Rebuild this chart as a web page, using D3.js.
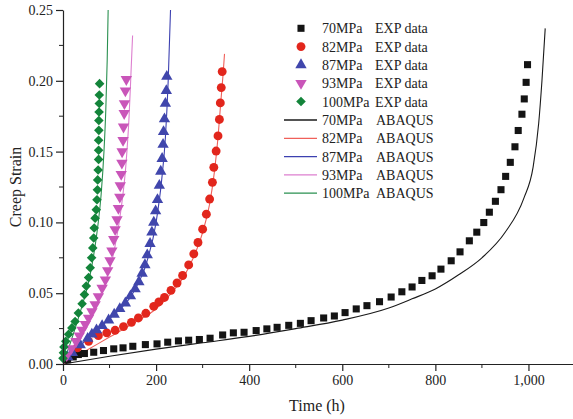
<!DOCTYPE html>
<html>
<head>
<meta charset="utf-8">
<script src="https://cdn.jsdelivr.net/npm/d3@7"></script>
<style>
body { margin: 0; background: #fff; }
text { font-family: 'Liberation Serif', 'Times New Roman', serif; fill: #222; }
</style>
</head>
<body>
<script>
// experimental points [time h, strain]
const exp70 = [[10,0.003],[22,0.005],[33,0.0067],[46,0.0074],[66,0.0083],[87,0.0095],[109,0.0107],[129,0.0114],[150,0.0125],[177,0.0137],[202,0.0142],[225,0.0154],[248,0.0163],[270,0.0168],[293,0.0173],[316,0.0182],[343,0.0205],[366,0.022],[389,0.0224],[415,0.0236],[438,0.0248],[460,0.0259],[485,0.0273],[510,0.0287],[533,0.0306],[560,0.0325],[583,0.0339],[606,0.0363],[630,0.0389],[653,0.0412],[680,0.044],[705,0.0473],[728,0.051],[750,0.0544],[771,0.059],[793,0.0623],[812,0.067],[834,0.0729],[853,0.0792],[873,0.087],[889,0.0931],[904,0.0999],[916,0.1072],[929,0.1149],[941,0.1231],[951,0.1325],[961,0.1424],[971,0.1534],[978,0.1649],[986,0.1764],[991,0.1872],[995,0.1989],[998,0.2114]]
const exp82 = [[31,0.0114],[55,0.016],[76,0.02],[94,0.022],[112,0.0238],[130,0.0264],[147,0.0294],[162,0.0325],[178,0.0358],[195,0.0407],[206,0.0438],[218,0.047],[232,0.052],[245,0.0572],[257,0.0625],[270,0.07],[281,0.0778],[290,0.0858],[300,0.0952],[308,0.1058],[315,0.1165],[321,0.1283],[324,0.1389],[329,0.1504],[333,0.1611],[336,0.1727],[338,0.1844],[340,0.1952],[342,0.2065]]
const exp87 = [[10,0.005],[20,0.008],[37,0.0135],[53,0.018],[62,0.021],[72,0.024],[84,0.027],[98,0.031],[110,0.035],[122,0.039],[134,0.043],[145,0.048],[155,0.053],[163,0.058],[170,0.064],[176,0.07],[181,0.077],[187,0.085],[191,0.093],[195,0.1],[199,0.108],[203,0.116],[207,0.126],[210,0.136],[213,0.145],[215,0.155],[216,0.164],[218,0.173],[220,0.184],[222,0.193],[223,0.203]]
const exp93 = [[8,0.006],[18,0.011],[28,0.016],[35,0.02],[41,0.024],[48,0.028],[55,0.0325],[62,0.037],[69,0.042],[76,0.0477],[84,0.0537],[91,0.0595],[96,0.066],[101,0.073],[105,0.08],[109,0.088],[112,0.095],[116,0.102],[119,0.11],[122,0.118],[123,0.126],[125,0.134],[126.5,0.142],[127,0.15],[129,0.158],[130,0.1675],[131.5,0.177],[132,0.184],[134,0.193],[136,0.201]]
const exp100 = [[0,0.004],[1,0.008],[2,0.012],[6,0.016],[12,0.021],[19,0.0255],[26,0.03],[33,0.036],[41,0.0425],[46,0.049],[50,0.055],[55,0.061],[58.5,0.068],[61.5,0.075],[64,0.082],[66,0.089],[67,0.096],[69,0.103],[71.5,0.109],[73,0.116],[74,0.123],[74.5,0.13],[75.5,0.137],[76.5,0.1445],[76.5,0.151],[76.5,0.158],[77,0.165],[77,0.172],[77.5,0.178],[78,0.184],[78,0.19],[78.6,0.198]]

// ABAQUS simulation curves
const sim70 = [[0,0],[100,0.0055],[200,0.0105],[300,0.015],[400,0.0195],[500,0.025],[600,0.031],[700,0.0395],[750,0.046],[800,0.053],[850,0.063],[900,0.075],[950,0.093],[990,0.117],[1010,0.139],[1022,0.17],[1029,0.2],[1036,0.237]]
const sim82 = [[0,0],[50,0.0095],[100,0.019],[150,0.0285],[200,0.039],[230,0.049],[260,0.062],[280,0.075],[300,0.093],[315,0.113],[325,0.135],[333,0.16],[339,0.185],[344,0.205],[347,0.219]]
const sim87 = [[0,0],[50,0.017],[100,0.032],[150,0.05],[180,0.072],[200,0.1],[212,0.13],[220,0.16],[226,0.2],[231,0.25]]
const sim93 = [[0,0],[30,0.017],[60,0.035],[90,0.057],[110,0.08],[125,0.11],[135,0.14],[142,0.175],[146,0.205],[149.5,0.232]]
const sim100 = [[0,0],[20,0.019],[40,0.04],[55,0.058],[65,0.075],[75,0.098],[82,0.12],[88,0.15],[92,0.18],[95,0.215],[97,0.25]]

const stresses = ['70MPa', '82MPa', '87MPa', '93MPa', '100MPa']
const xTicks = [0, 200, 400, 600, 800, 1000]
const yTicks = [0, 0.05, 0.10, 0.15, 0.20, 0.25]

const markColors = ['#141414', '#e2261c', '#4046ac', '#c955b9', '#13843a']
const lineColors = ['#1a1a1a', '#f0605a', '#3c40b0', '#dd7fcf', '#2a9050']

const width = 573
const height = 419
const margin = { top: 10, right: 0, bottom: 55, left: 63 }

const x = d3.scaleLinear().domain([0, 1100]).range([margin.left, margin.left + 512])
const y = d3.scaleLinear().domain([0, 0.25]).range([height - margin.bottom, margin.top])

const svg = d3.select('body')
	.append('svg')
	.attr('width', width)
	.attr('height', height)

svg.append('defs').append('clipPath')
	.attr('id', 'plot')
	.append('rect')
	.attr('x', margin.left)
	.attr('y', margin.top - 1)
	.attr('width', width - margin.left)
	.attr('height', height - margin.bottom - margin.top + 1)

const line = d3.line()
	.x(d => x(d[0]))
	.y(d => y(d[1]))
	.curve(d3.curveMonotoneX)

const sims = [sim70, sim82, sim87, sim93, sim100]
const exps = [exp70, exp82, exp87, exp93, exp100]

svg.append('g')
	.attr('clip-path', 'url(#plot)')
	.selectAll('path')
	.data(sims)
	.enter()
	.append('path')
	.attr('d', line)
	.attr('fill', 'none')
	.attr('stroke', (d, i) => lineColors[i])
	.attr('stroke-width', 1.1)

const symbols = [
	{ type: d3.symbolSquare, size: 50, rot: 0 },
	{ type: d3.symbolCircle, size: 62, rot: 0 },
	{ type: d3.symbolTriangle, size: 56, rot: 0 },
	{ type: d3.symbolTriangle, size: 56, rot: 180 },
	{ type: d3.symbolSquare, size: 46, rot: 45 }
]

exps.forEach((pts, i) => {
	const s = symbols[i]
	svg.append('g')
		.selectAll('path')
		.data(pts)
		.enter()
		.append('path')
		.attr('d', d3.symbol().type(s.type).size(s.size))
		.attr('transform', d => `translate(${x(d[0])},${y(d[1])}) rotate(${s.rot})`)
		.attr('fill', markColors[i])
})

// axes
const xAxis = d3.axisBottom(x).tickValues(xTicks).tickSize(7).tickSizeOuter(0).tickPadding(4)
const yAxis = d3.axisLeft(y).tickValues(yTicks).tickSize(7).tickSizeOuter(0).tickPadding(3)
	.tickFormat(d3.format('.2f'))

const gx = svg.append('g')
	.attr('transform', `translate(0,${y(0)})`)
	.call(xAxis)
gx.selectAll('.minor')
	.data(d3.range(100, 1100, 200))
	.enter()
	.append('line')
	.attr('x1', d => x(d)).attr('x2', d => x(d))
	.attr('y1', 0).attr('y2', 4)
	.attr('stroke', '#222')

const gy = svg.append('g')
	.attr('transform', `translate(${margin.left},0)`)
	.call(yAxis)
gy.selectAll('.minor')
	.data([0.025, 0.075, 0.125, 0.175, 0.225])
	.enter()
	.append('line')
	.attr('x1', 0).attr('x2', -4)
	.attr('y1', d => y(d)).attr('y2', d => y(d))
	.attr('stroke', '#222')

svg.selectAll('.domain, .tick line').attr('stroke', '#222').attr('stroke-width', 1.2)
svg.selectAll('.tick text')
	.style('font-family', "'Liberation Serif', serif")
	.style('font-size', '14px')
	.attr('fill', '#222')

svg.append('text')
	.attr('x', 317)
	.attr('y', 411)
	.attr('text-anchor', 'middle')
	.style('font-size', '16px')
	.text('Time (h)')

svg.append('text')
	.attr('transform', 'translate(21,187) rotate(-90)')
	.attr('text-anchor', 'middle')
	.style('font-size', '16px')
	.text('Creep Strain')

// legend
const legend = svg.append('g')
stresses.forEach((s, i) => {
	const cy = 28.3 + i * 18.3
	const sym = symbols[i]
	legend.append('path')
		.attr('d', d3.symbol().type(sym.type).size(sym.size))
		.attr('transform', `translate(301,${cy}) rotate(${sym.rot})`)
		.attr('fill', markColors[i])
	legend.append('text')
		.attr('x', 322).attr('y', cy + 5)
		.style('font-size', '14px')
		.text(s)
	legend.append('text')
		.attr('x', 375).attr('y', cy + 5)
		.style('font-size', '14px')
		.text('EXP data')
})
stresses.forEach((s, i) => {
	const cy = 120 + i * 18.3
	legend.append('line')
		.attr('x1', 284).attr('x2', 317)
		.attr('y1', cy).attr('y2', cy)
		.attr('stroke', lineColors[i])
		.attr('stroke-width', 1.3)
	legend.append('text')
		.attr('x', 322).attr('y', cy + 5)
		.style('font-size', '14px')
		.text(s)
	legend.append('text')
		.attr('x', 376).attr('y', cy + 5)
		.style('font-size', '14px')
		.text('ABAQUS')
})
</script>
</body>
</html>
